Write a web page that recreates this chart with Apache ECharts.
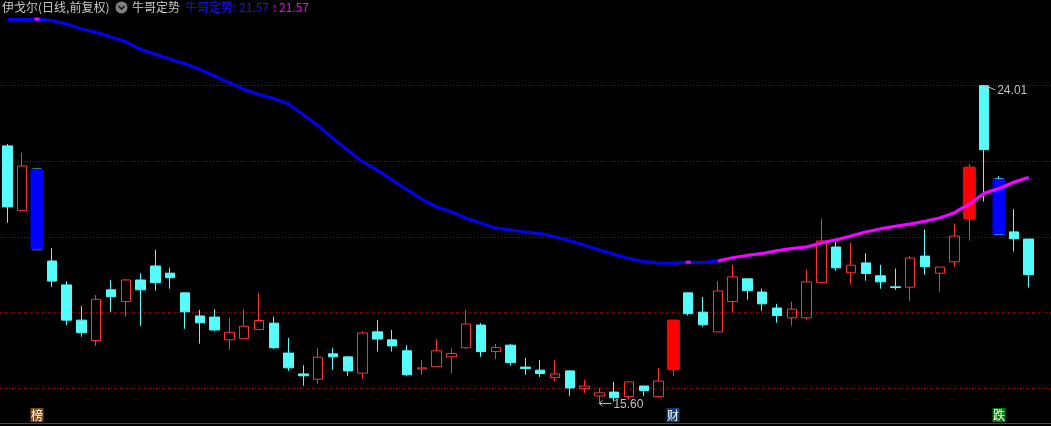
<!DOCTYPE html>
<html><head><meta charset="utf-8">
<script src="https://cdn.jsdelivr.net/npm/echarts@6/dist/echarts.min.js"></script>
<style>html,body{margin:0;padding:0;background:#000;overflow:hidden}#c{width:1051px;height:426px}</style>
</head><body><div id="c"></div>
<script>
// ---- data ----
const stockTitle = '伊戈尔(日线,前复权)';
const indicatorName = '牛哥定势';
// [open, close, low, high]
const candles = [
 [22.40,20.79,20.37,22.45],[20.69,21.87,20.68,22.22],[21.79,19.66,19.66,21.79],[19.36,18.83,18.68,19.70],
 [18.73,17.80,17.67,18.83],[17.80,17.47,17.36,18.17],[17.26,18.35,17.12,18.46],[18.60,18.42,18.02,18.86],
 [18.29,18.86,17.89,18.89],[18.86,18.60,17.65,19.04],[19.23,18.79,18.58,19.65],[19.04,18.92,18.63,19.18],
 [18.52,18.02,17.57,18.52],[17.91,17.73,17.18,18.07],[17.88,17.54,17.51,18.09],[17.28,17.48,17.02,17.86],
 [17.31,17.64,17.31,18.09],[17.55,17.79,17.55,18.52],[17.72,17.07,17.04,17.89],[16.93,16.54,16.46,17.33],
 [16.38,16.33,16.07,16.61],[16.24,16.82,16.12,17.06],[16.91,16.83,16.49,17.06],[16.83,16.46,16.33,16.83],
 [16.40,17.46,16.25,17.51],[17.49,17.30,16.97,17.80],[17.28,17.12,16.97,17.54],[16.99,16.36,16.32,17.14],
 [16.51,16.54,16.36,16.75],[16.57,16.99,16.57,17.30],[16.83,16.92,16.39,17.06],[17.07,17.70,17.04,18.07],
 [17.67,16.97,16.83,17.72],[16.97,17.08,16.77,17.17],[17.14,16.68,16.60,17.17],[16.56,16.52,16.35,16.80],
 [16.48,16.39,16.30,16.75],[16.28,16.38,16.19,16.75],[16.46,16.01,15.80,16.48],[15.99,16.06,15.88,16.22],
 [15.80,15.88,15.60,16.01],[15.90,15.75,15.65,16.17],[15.78,16.17,15.70,16.17],[16.06,15.94,15.80,16.06],
 [15.78,16.19,15.75,16.54],[16.49,17.80,16.33,17.80],[18.52,17.97,17.92,18.52],[18.01,17.68,17.63,18.41],
 [17.49,18.57,17.49,18.83],[18.29,18.94,18.02,19.26],[18.89,18.58,18.34,18.89],[18.54,18.23,18.05,18.63],
 [18.12,17.92,17.73,18.23],[17.86,18.09,17.65,18.29],[17.86,18.81,17.81,19.13],[18.79,19.89,18.79,20.48],
 [19.73,19.18,19.10,19.86],[19.05,19.25,18.74,19.84],[19.31,19.03,18.84,19.57],[18.97,18.81,18.63,19.26],
 [18.68,18.66,18.60,19.16],[18.67,19.44,18.31,19.49],[19.49,19.21,19.00,20.19],[19.04,19.20,18.55,19.20],
 [19.34,20.02,19.21,20.35],[20.48,21.84,19.90,21.93],[23.99,22.30,20.93,24.01],[21.53,20.06,20.06,21.60],
 [20.13,19.95,19.61,20.73],[19.94,19.00,18.66,19.94]
];
const ma = [
 25.74,25.74,25.75,25.71,25.62,25.49,25.40,25.28,25.15,24.95,
 24.82,24.69,24.57,24.42,24.25,24.07,23.89,23.76,23.65,23.51,
 23.22,22.93,22.60,22.29,21.98,21.76,21.50,21.24,20.99,20.79,
 20.66,20.49,20.36,20.23,20.18,20.13,20.09,20.00,19.90,19.78,
 19.65,19.54,19.43,19.35,19.31,19.30,19.33,19.32,19.36,19.45,
 19.51,19.56,19.63,19.69,19.73,19.84,19.92,20.02,20.13,20.21,
 20.28,20.34,20.41,20.50,20.64,20.87,21.15,21.28,21.44,21.57
];
const solidIdx = [2, 45, 65, 67];
const signalIdx = [2, 45, 67];
const signalText = ['榜', '财', '跌'];
const gridLevels = [16, 18, 20, 22, 24];

// ---- styles / layout ----
const W = 1051, H = 426, PLOT_BOTTOM = 3;
const PRICE_MIN = 15.084, PRICE_MAX = 26.252;
const UP = '#ff3232', DOWN = '#54fcfc';
const signalColors = ['#7a4a14', '#103c78', '#0a7a0a'];
const CJK = '"Noto Sans CJK SC", sans-serif';
const plotH = H - PLOT_BOTTOM;
const yOf = p => plotH * (PRICE_MAX - p) / (PRICE_MAX - PRICE_MIN);
const gMin = gridLevels[0], gMax = gridLevels[gridLevels.length - 1];

const categories = candles.map((_, i) => String(i + 1));
const maRise = ma.map((v, i) => (i > 0 && v > ma[i - 1]) ? v : '-');
const isolated = maRise.map((v, i) => v !== '-' && (i === 0 || maRise[i - 1] === '-') && (i === ma.length - 1 || maRise[i + 1] === '-'));
const solidData = solidIdx.map(i => [i, candles[i][0], candles[i][1]]);

const chart = echarts.init(document.getElementById('c'), null, {renderer: 'canvas'});
chart.setOption({
  backgroundColor: '#000000',
  animation: false,
  grid: [
    {left: -1, right: 15, top: 0, bottom: PLOT_BOTTOM},
    {left: 0, right: 0, top: yOf(gMax), bottom: H - yOf(gMin)}
  ],
  xAxis: [
    {type: 'category', data: categories, boundaryGap: true, show: false},
    {type: 'value', gridIndex: 1, min: 0, max: 1, show: false}
  ],
  yAxis: [
    {type: 'value', min: PRICE_MIN, max: PRICE_MAX, show: false, splitLine: {show: false}},
    {type: 'value', gridIndex: 1, min: gMin, max: gMax, interval: 2,
      axisLine: {show: false}, axisTick: {show: false}, axisLabel: {show: false},
      splitLine: {show: true, lineStyle: {color: '#b00000', type: [1, 2], width: 1}}}
  ],
  series: [
    {type: 'candlestick', data: candles, barWidth: 10, z: 2,
      itemStyle: {color: 'transparent', color0: DOWN, borderColor: UP, borderColor0: DOWN, borderWidth: 1}},
    {type: 'custom', data: solidData, z: 3,
      renderItem: function (params, api) {
        const o = api.value(1), c = api.value(2);
        const p1 = api.coord([api.value(0), o]);
        const p2 = api.coord([api.value(0), c]);
        return {type: 'rect', shape: {x: p1[0] - 6.5, y: Math.min(p1[1], p2[1]), width: 13, height: Math.abs(p1[1] - p2[1])},
          style: {fill: c > o ? '#ff0000' : '#0000ff'}};
      }},
    {type: 'line', data: ma, z: 4, showSymbol: false, symbol: 'none', lineStyle: {color: '#0000ff', width: 3}, silent: true},
    {type: 'line', data: maRise, z: 5, showSymbol: true, symbol: 'rect',
      symbolSize: function (v, p) { return isolated[p.dataIndex] ? [5, 3] : 0; },
      itemStyle: {color: '#ff00ff'}, lineStyle: {color: '#ff00ff', width: 3}, silent: true, connectNulls: false}
  ]
});

// ---- annotations ----
const last = ma[ma.length - 1].toFixed(2);
let hiIdx = 0, loIdx = 0;
candles.forEach((c, i) => { if (c[3] > candles[hiIdx][3]) hiIdx = i; if (c[2] < candles[loIdx][2]) loIdx = i; });
const hiPt = chart.convertToPixel({seriesIndex: 0}, [hiIdx, candles[hiIdx][3]]);
const loPt = chart.convertToPixel({seriesIndex: 0}, [loIdx, candles[loIdx][2]]);
const g = [];
function txt(x, y, t, fill, font, align) {
  g.push({type: 'text', silent: true, z: 100, style: {x: x, y: y, text: t, fill: fill, font: font,
    textAlign: align || 'left', textVerticalAlign: 'middle', verticalAlign: 'middle'}});
}
// bottom red base line across full width
g.push({type: 'rect', silent: true, z: 100, shape: {x: 0, y: plotH, width: W, height: 1}, style: {fill: '#ff0000'}});
txt(2, 7, stockTitle, '#c8c8c8', '12px ' + CJK);
g.push({type: 'circle', silent: true, z: 100, shape: {cx: 121.5, cy: 7.5, r: 6}, style: {fill: '#808080'}});
g.push({type: 'polyline', silent: true, z: 101, shape: {points: [[118.5, 6], [121.5, 9], [124.5, 6]]}, style: {stroke: '#1a1a1a', lineWidth: 1.6, fill: null}});
txt(132, 7, indicatorName, '#c8c8c8', '12px ' + CJK);
txt(185, 7, indicatorName + ': ' + last, '#1414ff', '12px ' + CJK);
txt(273, 7, ': ' + last, '#ff00ff', '12px ' + CJK);
// high label
g.push({type: 'polyline', silent: true, z: 100, shape: {points: [[hiPt[0] + 5, hiPt[1] + 1], [hiPt[0] + 2, hiPt[1] + 1], [hiPt[0] + 2, hiPt[1] + 4]]}, style: {stroke: '#c0c0c0', lineWidth: 1, fill: null}});
g.push({type: 'line', silent: true, z: 100, shape: {x1: hiPt[0] + 2, y1: hiPt[1] + 1, x2: hiPt[0] + 11, y2: hiPt[1] + 5}, style: {stroke: '#c0c0c0', lineWidth: 1}});
txt(hiPt[0] + 13, hiPt[1] + 6, candles[hiIdx][3].toFixed(2), '#c0c0c0', '12px "Liberation Sans", sans-serif');
// low label
g.push({type: 'line', silent: true, z: 100, shape: {x1: loPt[0], y1: loPt[1], x2: loPt[0] + 12, y2: loPt[1]}, style: {stroke: '#c0c0c0', lineWidth: 1}});
g.push({type: 'polyline', silent: true, z: 100, shape: {points: [[loPt[0] + 3, loPt[1] - 3], [loPt[0], loPt[1]], [loPt[0] + 3, loPt[1] + 3]]}, style: {stroke: '#c0c0c0', lineWidth: 1, fill: null}});
txt(loPt[0] + 14, loPt[1] + 1, candles[loIdx][2].toFixed(2), '#c0c0c0', '12px "Liberation Sans", sans-serif');
// signal boxes
signalIdx.forEach((idx, k) => {
  const x = chart.convertToPixel({xAxisIndex: 0}, idx);
  g.push({type: 'rect', silent: true, z: 100, shape: {x: Math.round(x) - 6.5, y: 408, width: 13, height: 14}, style: {fill: signalColors[k]}});
  txt(Math.round(x), 415, signalText[k], '#ffffff', '12px ' + CJK, 'center');
});
chart.setOption({graphic: g});
</script>
</body></html>
